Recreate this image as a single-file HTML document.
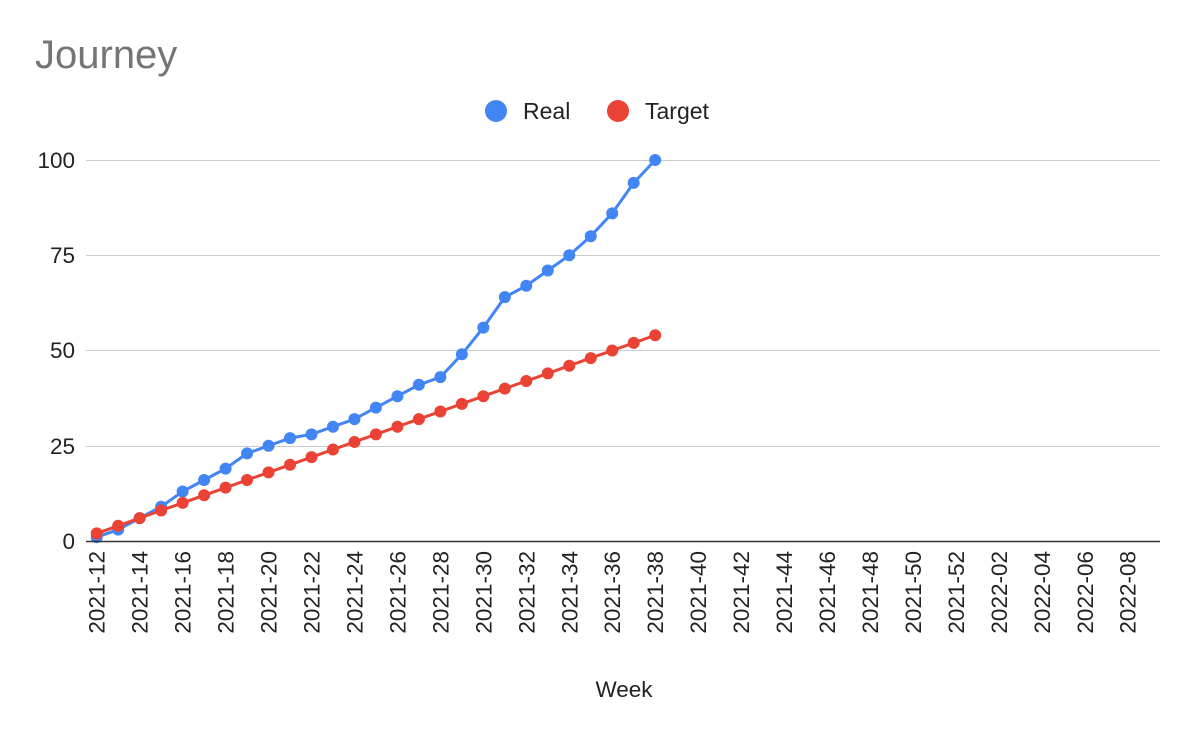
<!DOCTYPE html>
<html><head><style>body{margin:0;background:#fff}svg{display:block}text{font-family:"Liberation Sans",Arial,sans-serif}</style></head>
<body>
<svg id="s" width="1196" height="738" xmlns="http://www.w3.org/2000/svg">
<rect width="1196" height="738" fill="#fff"/>
<text x="35" y="68" font-size="40" fill="#757575">Journey</text>
<circle cx="496" cy="111" r="11" fill="#4285f4"/><text x="523" y="119" font-size="23" fill="#222">Real</text>
<circle cx="618" cy="111" r="11" fill="#ea4335"/><text x="645" y="119" font-size="23" fill="#222">Target</text>
<g stroke="#ccc" stroke-width="1">
<line x1="86" x2="1160" y1="160.5" y2="160.5"/><line x1="86" x2="1160" y1="255.5" y2="255.5"/>
<line x1="86" x2="1160" y1="350.5" y2="350.5"/><line x1="86" x2="1160" y1="446.5" y2="446.5"/>
</g>
<g font-size="22.5" fill="#222" text-anchor="end">
<text x="75" y="168">100</text><text x="75" y="263">75</text><text x="75" y="358">50</text><text x="75" y="454">25</text><text x="75" y="549">0</text>
</g>
<g id="data"></g>
<line x1="86" x2="1160" y1="541.5" y2="541.5" stroke="#333" stroke-width="1.5"/>
<g id="xl" font-size="22.5" fill="#222"></g>
<text x="624" y="697" font-size="22.5" fill="#222" text-anchor="middle">Week</text>
</svg>
<script>
var ns="http://www.w3.org/2000/svg";
function X(i){return 96.7+21.48*i}function Y(v){return 541-v*3.81}
var real=[1,3,6,9,13,16,19,23,25,27,28,30,32,35,38,41,43,49,56,64,67,71,75,80,86,94,100];
var tgt=[];for(var i=0;i<27;i++)tgt.push(2+2*i);
var g=document.getElementById('data');
function series(d,c){var p=d.map(function(v,i){return X(i).toFixed(1)+','+Y(v).toFixed(1)}).join(' ');
var pl=document.createElementNS(ns,'polyline');pl.setAttribute('points',p);pl.setAttribute('fill','none');pl.setAttribute('stroke',c);pl.setAttribute('stroke-width','3');g.appendChild(pl);
d.forEach(function(v,i){var ci=document.createElementNS(ns,'circle');ci.setAttribute('cx',X(i));ci.setAttribute('cy',Y(v));ci.setAttribute('r','6');ci.setAttribute('fill',c);g.appendChild(ci);});}
series(real,'#4285f4');series(tgt,'#ea4335');
var xl=document.getElementById('xl');
for(var i=0;i<50;i+=2){var lab;if(i<=40){lab='2021-'+(12+i)}else{var w=i-40;lab='2022-'+(w<10?'0':'')+w}
var t=document.createElementNS(ns,'text');var x=X(i)+8;t.setAttribute('transform','translate('+x.toFixed(1)+',551) rotate(-90)');t.setAttribute('text-anchor','end');t.textContent=lab;xl.appendChild(t);}
</script>
</body></html>
